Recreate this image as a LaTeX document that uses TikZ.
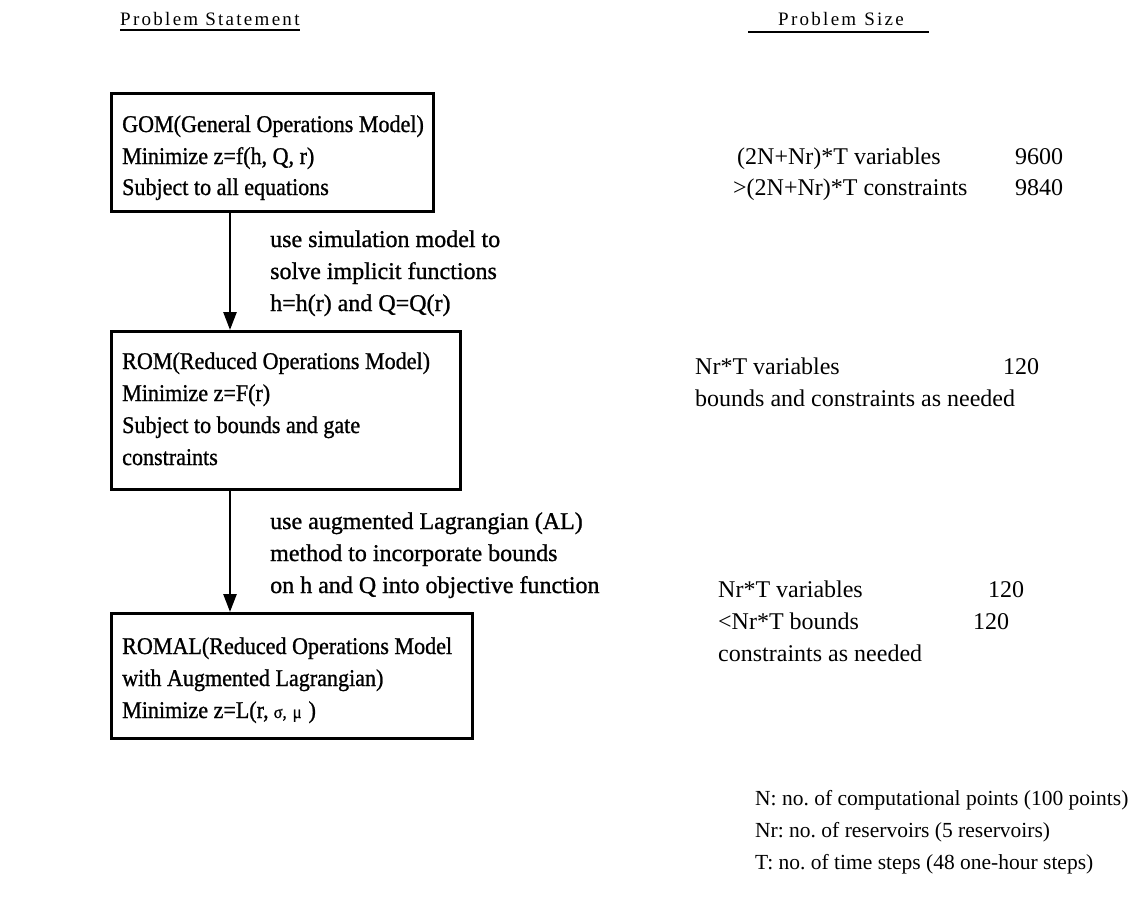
\documentclass[tikz,border=0pt]{standalone}
\usepackage{fontspec}
\setmainfont{Liberation Serif}
\newfontfamily\scanfont[FakeBold=1.0,FakeStretch=0.92]{Liberation Serif}
\newfontfamily\labelfont[FakeBold=1.0]{Liberation Serif}
\newfontfamily\headfont[LetterSpace=12]{Liberation Serif}
\usetikzlibrary{arrows.meta,calc}
\frenchspacing
\begin{document}
\begin{tikzpicture}[x=1pt,y=-1pt,
  modelbox/.style={draw, line width=2.6pt, inner sep=0pt, anchor=north west},
  boxtext/.style={anchor=base west, inner sep=0pt, font=\scanfont\fontsize{24}{28}\selectfont},
  labeltext/.style={anchor=base west, inner sep=0pt, font=\labelfont\fontsize{24}{28}\selectfont},
  sizetext/.style={anchor=base west, inner sep=0pt, font=\fontsize{24}{28}\selectfont},
  notetext/.style={anchor=base west, inner sep=0pt, font=\fontsize{21.5}{26}\selectfont},
  headtext/.style={anchor=base west, inner sep=0pt, font=\headfont\fontsize{19}{22}\selectfont},
  flow/.style={line width=2.6pt, -{Triangle[length=18pt,width=13pt]}}]
\useasboundingbox (0,0) rectangle (1135,911);

% column headings
\node[headtext] (hstate) at (120,25) {Problem Statement};
\node[headtext] (hsize) at (778,25) {Problem\hspace{8pt}Size};
\draw[line width=1.8pt] ($(hstate.base west)+(0,5)$) -- ($(hstate.base east)+(0,5)$);
\draw[line width=1.8pt] ($(hsize.base west)+(-30,7)$) -- ($(hsize.base east)+(25,7)$);

% model boxes
\node[modelbox, minimum width=322, minimum height=118] (gom) at (110,92) {};
\node[modelbox, minimum width=349, minimum height=158] (rom) at (110,330) {};
\node[modelbox, minimum width=361, minimum height=125] (romal) at (110,612) {};

\node[boxtext] (g1) at (122,132) {GOM(General Operations Model)};
\node[boxtext] (g2) at (122,164) {Minimize z=f(h, Q, r)};
\node[boxtext] (g3) at (122,195) {Subject to all equations};

\node[boxtext] (r1) at (122,369) {ROM(Reduced Operations Model)};
\node[boxtext] (r2) at (122,401) {Minimize z=F(r)};
\node[boxtext] (r3) at (122,433) {Subject to bounds and gate};
\node[boxtext] (r4) at (122,465) {constraints};

\node[boxtext] (a1) at (122,654) {ROMAL(Reduced Operations Model};
\node[boxtext] (a2) at (122,686) {with Augmented Lagrangian)};
\node[boxtext] (a3) at (122,718) {Minimize z=L(r,\hspace{5pt}{\fontsize{18}{20}\selectfont σ,\hspace{6pt}μ}\hspace{7pt})};

% transformations between the models
\coordinate (axis) at (230,0);
\draw[flow] (gom.south -| axis) -- (rom.north -| axis);
\draw[flow] (rom.south -| axis) -- (romal.north -| axis);

\node[labeltext] (s1) at (270,247) {use simulation model to};
\node[labeltext] (s2) at (270,279) {solve implicit functions};
\node[labeltext] (s3) at (270,311) {h=h(r) and Q=Q(r)};

\node[labeltext] (l1) at (270,529) {use augmented Lagrangian (AL)};
\node[labeltext] (l2) at (270,561) {method to incorporate bounds};
\node[labeltext] (l3) at (270,593) {on h and Q into objective function};

% problem sizes
\node[sizetext] (p1) at (737,164) {(2N+Nr)*T variables};
\node[sizetext] (p1n) at (1015,164) {9600};
\node[sizetext] (p2) at (733,195) {>(2N+Nr)*T constraints};
\node[sizetext] (p2n) at (1015,195) {9840};

\node[sizetext] (q1) at (695,374) {Nr*T variables};
\node[sizetext] (q1n) at (1003,374) {120};
\node[sizetext] (q2) at (695,406) {bounds and constraints as needed};

\node[sizetext] (t1) at (718,597) {Nr*T variables};
\node[sizetext] (t1n) at (988,597) {120};
\node[sizetext] (t2) at (718,629) {<Nr*T bounds};
\node[sizetext] (t2n) at (973,629) {120};
\node[sizetext] (t3) at (718,661) {constraints as needed};

% legend
\node[notetext] (k1) at (755,805) {N: no. of computational points (100 points)};
\node[notetext] (k2) at (755,837) {Nr: no. of reservoirs (5 reservoirs)};
\node[notetext] (k3) at (755,869) {T: no. of time steps (48 one-hour steps)};
\end{tikzpicture}
\end{document}
